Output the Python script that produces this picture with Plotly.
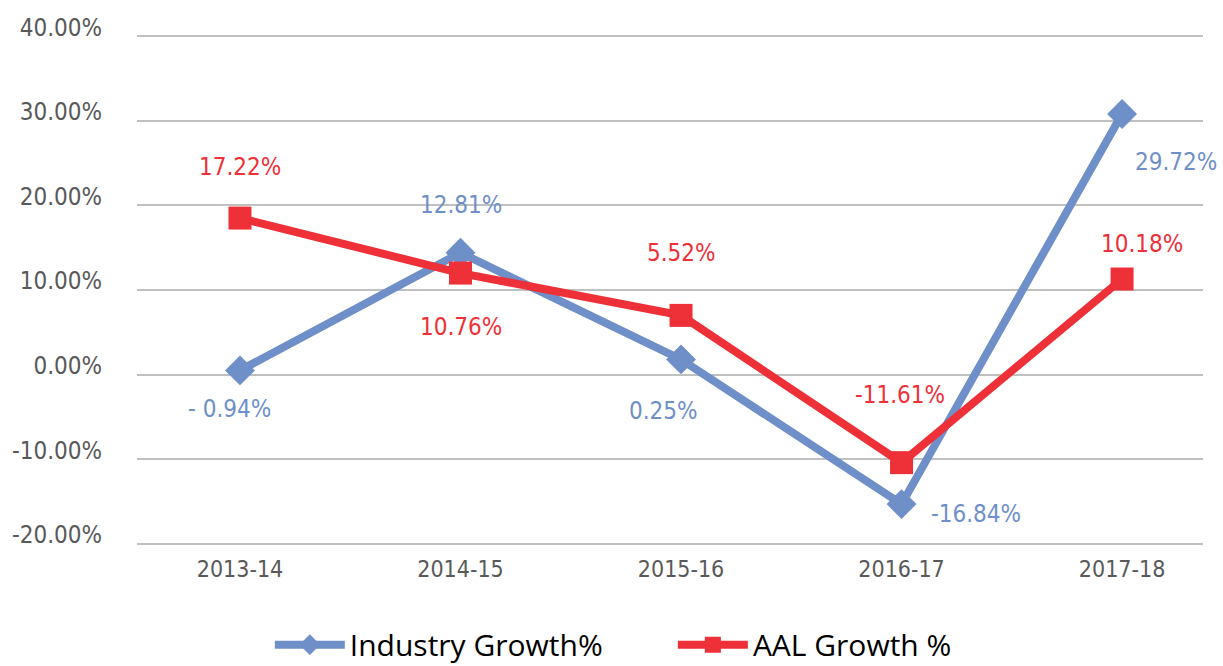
import plotly.graph_objects as go

years = ["2013-14", "2014-15", "2015-16", "2016-17", "2017-18"]
industry = [0.5, 14.4, 1.8, -15.3, 30.8]
aal = [18.5, 12.0, 7.0, -10.4, 11.3]
industry_labels = ["- 0.94%", "12.81%", "0.25%", "-16.84%", "29.72%"]
aal_labels = ["17.22%", "10.76%", "5.52%", "-11.61%", "10.18%"]
y_ticks = [-20, -10, 0, 10, 20, 30, 40]

BLUE = "#6F8FC9"
RED = "#EE3038"
FONT = "DejaVu Sans Condensed, sans-serif"

# label offsets (px): (xshift, yshift)
ind_off = [(-10, -39), (0, 48), (-18, -52), (74, -10), (54, -48)]
aal_off = [(0, 51), (0, -54), (0, 62), (-2, 68), (20, 35)]

fig = go.Figure()
fig.add_trace(go.Scatter(
    x=list(range(len(years))), y=industry, name="Industry Growth%",
    mode="lines+markers", legend="legend",
    line=dict(color=BLUE, width=8),
    marker=dict(symbol="diamond", size=23, color=BLUE),
))
fig.add_trace(go.Scatter(
    x=list(range(len(years))), y=aal, name="AAL Growth %",
    mode="lines+markers", legend="legend2",
    line=dict(color=RED, width=8),
    marker=dict(symbol="square", size=23, color=RED),
))

annotations = []
for i, (v, t) in enumerate(zip(industry, industry_labels)):
    annotations.append(dict(x=i, y=v, text=t, showarrow=False,
                            xshift=ind_off[i][0], yshift=ind_off[i][1],
                            font=dict(family=FONT, size=24, color=BLUE)))
for i, (v, t) in enumerate(zip(aal, aal_labels)):
    annotations.append(dict(x=i, y=v, text=t, showarrow=False,
                            xshift=aal_off[i][0], yshift=aal_off[i][1],
                            font=dict(family=FONT, size=24, color=RED)))

legend_font = dict(family="Open Sans, sans-serif", size=30, color="#000000")
fig.update_layout(
    width=1223, height=666,
    margin=dict(l=137, r=20, t=34, b=120),
    paper_bgcolor="white", plot_bgcolor="white",
    showlegend=True,
    legend=dict(orientation="h", xanchor="left", x=0.1246,
                yref="container", yanchor="middle", y=0.032,
                font=legend_font, itemwidth=70, bgcolor="rgba(0,0,0,0)"),
    legend2=dict(orientation="h", xanchor="left", x=0.5027,
                 yref="container", yanchor="middle", y=0.032,
                 font=legend_font, itemwidth=70, bgcolor="rgba(0,0,0,0)"),
    annotations=annotations,
    xaxis=dict(
        range=[-0.467, 4.367], automargin=False,
        tickvals=list(range(len(years))), ticktext=years,
        showgrid=False, zeroline=False, showline=False,
        ticks="", ticklabelstandoff=7,
        tickfont=dict(family=FONT, size=23, color="#595959"),
    ),
    yaxis=dict(
        range=[-20.25, 40.25], automargin=False,
        tickvals=y_ticks, ticktext=[f"{v:.2f}%" for v in y_ticks],
        showgrid=True, gridcolor="#C0C0C0", gridwidth=2,
        zeroline=False, showline=False,
        ticks="", ticklabelstandoff=34, ticklabelshift=-9,
        tickfont=dict(family=FONT, size=24, color="#595959"),
    ),
)

fig.write_html("out.html", config={"displayModeBar": False},
               post_script="document.body.style.margin='0';document.body.style.overflow='hidden';")
